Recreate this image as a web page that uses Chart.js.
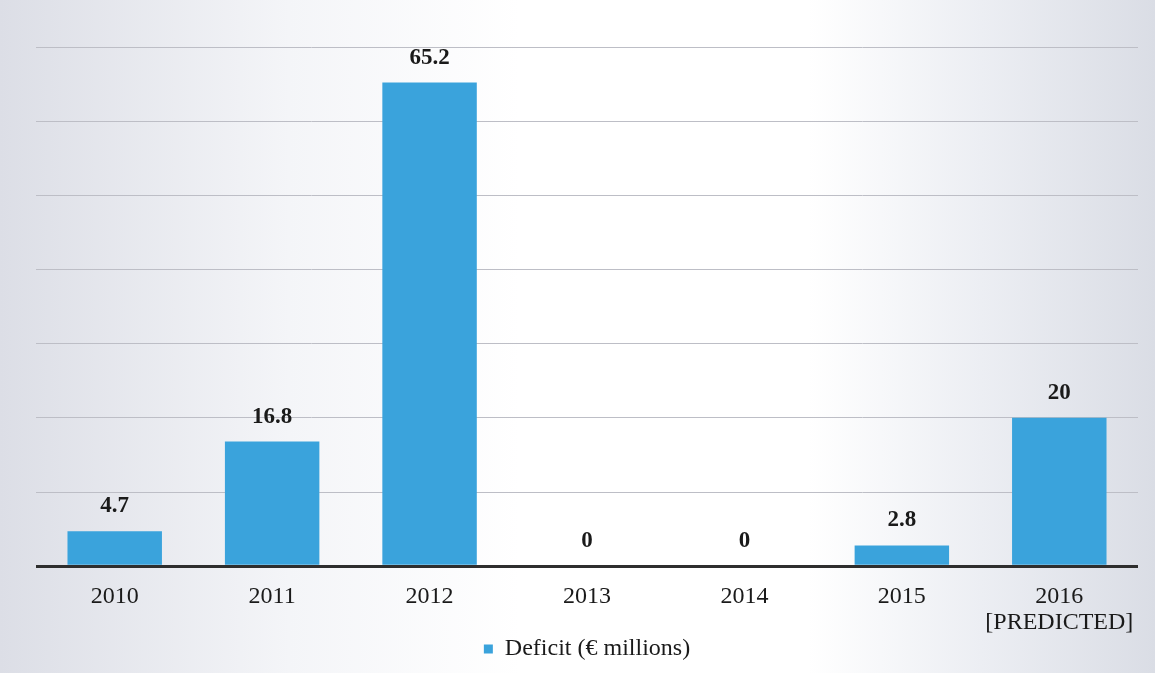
<!DOCTYPE html>
<html>
<head>
<meta charset="utf-8">
<script src="https://cdn.jsdelivr.net/npm/chart.js@4"></script>
<style>
  html, body { margin: 0; padding: 0; }
  body {
    width: 1155px; height: 673px; overflow: hidden;
    background: linear-gradient(90deg, #dcdee6 0%, #f4f5f8 25%, #ffffff 45%, #ffffff 70%, #eceef3 85%, #dadde5 100%);
  }
  #wrap { position: relative; width: 1155px; height: 673px; }
</style>
</head>
<body>
<div id="wrap"><canvas id="deficitChart" width="1155" height="673"></canvas></div>
<script>
var years = ['2010', '2011', '2012', '2013', '2014', '2015', ['2016', '[PREDICTED]']];
var deficit = [4.7, 16.8, 65.2, 0, 0, 2.8, 20];
var seriesName = 'Deficit (€ millions)';

// draws the value above each bar
var valueLabels = {
    id: 'valueLabels',
    afterDatasetsDraw: function(chart) {
        var ctx = chart.ctx;
        var meta = chart.getDatasetMeta(0);
        ctx.save();
        ctx.font = 'bold 23px "Liberation Serif", serif';
        ctx.fillStyle = '#1a1a1a';
        ctx.textAlign = 'center';
        ctx.textBaseline = 'middle';
        meta.data.forEach(function(bar, i) {
            ctx.fillText(String(deficit[i]), bar.x, bar.y - 25);
        });
        ctx.restore();
    }
};

var ctx = document.getElementById('deficitChart').getContext('2d');
var deficitChart = new Chart(ctx, {
    type: 'bar',
    data: {
        labels: years,
        datasets: [{
            label: seriesName,
            data: deficit,
            backgroundColor: '#3aa3dc',
            borderWidth: 0,
            categoryPercentage: 1.0,
            barPercentage: 0.6
        }]
    },
    options: {
        responsive: false,
        animation: false,
        layout: { padding: { left: 36, right: 17, top: 47, bottom: 2 } },
        plugins: {
            tooltip: { enabled: false },
            legend: {
                position: 'bottom',
                labels: {
                    color: '#1a1a1a',
                    font: { family: '"Liberation Serif", serif', size: 24, lineHeight: 1.1 },
                    boxWidth: 9,
                    boxHeight: 9,
                    padding: 0
                }
            }
        },
        scales: {
            x: {
                grid: { display: false, drawTicks: false },
                border: { display: false },
                ticks: {
                    color: '#1a1a1a',
                    font: { family: '"Liberation Serif", serif', size: 24, lineHeight: 1.1 },
                    padding: 17,
                    maxRotation: 0
                },
                afterFit: function(scale) { scale.height = scale.height - 16; }
            },
            y: {
                min: 0,
                max: 70,
                ticks: { display: false, stepSize: 10 },
                border: { display: false },
                grid: {
                    drawTicks: false,
                    color: function(c) { return c.tick.value === 0 ? '#2e2e2e' : '#bdbec6'; },
                    lineWidth: function(c) { return c.tick.value === 0 ? 3 : 1; }
                }
            }
        }
    },
    plugins: [valueLabels]
});
</script>
</body>
</html>
